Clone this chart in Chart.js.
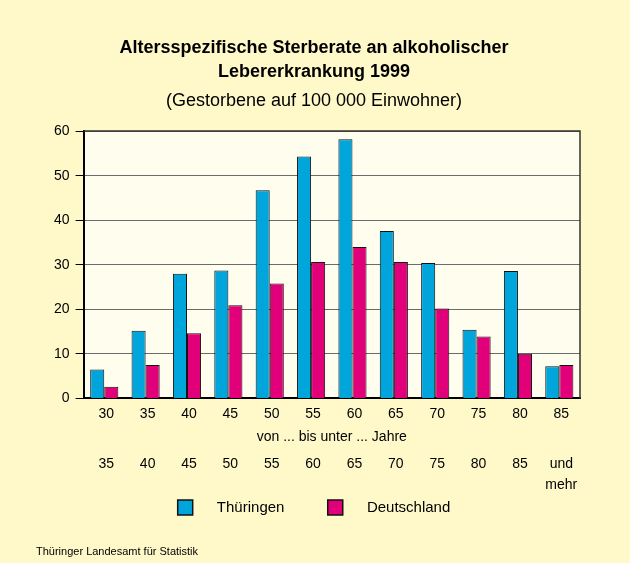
<!DOCTYPE html>
<html>
<head>
<meta charset="utf-8">
<style>
  html, body { margin: 0; padding: 0; background: #fff9ca; }
  #wrap { position: relative; width: 630px; height: 563px; }
  #source {
    position: absolute; left: 36px; top: 545px;
    font: 11px 'Liberation Sans', Arial, sans-serif; color: #000;
  }
</style>
</head>
<body>
<div id="wrap">
  <canvas id="sterbeChart"></canvas>
  <div id="source">Thüringer Landesamt für Statistik</div>
</div>

<script src="https://cdn.jsdelivr.net/npm/chart.js"></script>
<script>
  // age groups: "von ... bis unter ... Jahre"
  const lowerBounds = ["30", "35", "40", "45", "50", "55", "60", "65", "70", "75", "80", "85"];
  const upperBounds = ["35", "40", "45", "50", "55", "60", "65", "70", "75", "80", "85", ["und", "mehr"]];

  // Gestorbene auf 100 000 Einwohner
  const thueringen = [6.5, 15.2, 28.0, 28.7, 46.7, 54.3, 58.2, 37.6, 30.4, 15.4, 28.6, 7.2];
  const deutschland = [2.6, 7.5, 14.6, 20.9, 25.8, 30.6, 34.0, 30.6, 20.2, 13.9, 10.0, 7.5];

  const yTicks = [0, 10, 20, 30, 40, 50, 60];

  Chart.defaults.font.family = "'Liberation Sans', Arial, sans-serif";
  Chart.defaults.color = "#000";

  // plot background + frame
  const plotFrame = {
    id: "plotFrame",
    beforeDraw(chart) {
      const { ctx, chartArea: a } = chart;
      ctx.save();
      ctx.fillStyle = "#fffdee";
      ctx.fillRect(a.left, a.top, a.right - a.left, a.bottom - a.top);
      ctx.restore();
    },
    afterDraw(chart) {
      const { ctx, chartArea: a } = chart;
      ctx.save();
      ctx.strokeStyle = "#333";
      ctx.lineWidth = 1.5;
      ctx.beginPath();
      ctx.moveTo(a.left, a.top);
      ctx.lineTo(a.right, a.top);
      ctx.lineTo(a.right, a.bottom);
      ctx.stroke();
      ctx.restore();
    }
  };

  new Chart(document.getElementById("sterbeChart"), {
    type: "bar",
    data: {
      labels: lowerBounds,
      datasets: [
        {
          label: "Thüringen",
          data: thueringen,
          backgroundColor: "#00a6db",
          borderColor: "#111",
          borderWidth: 1
        },
        {
          label: "Deutschland",
          data: deutschland,
          backgroundColor: "#e2007a",
          borderColor: "#111",
          borderWidth: 1
        }
      ]
    },
    options: {
      responsive: true,
      maintainAspectRatio: false,
      animation: false,
      layout: { padding: { left: 48, right: 50, top: 0, bottom: 38 } },
      datasets: { bar: { categoryPercentage: 0.68, barPercentage: 1.0 } },
      plugins: {
        title: {
          display: true,
          text: ["Altersspezifische Sterberate an alkoholischer", "Lebererkrankung 1999"],
          font: { size: 18, weight: "bold", lineHeight: 1.28 },
          padding: { top: 37, bottom: 6 }
        },
        subtitle: {
          display: true,
          text: "(Gestorbene auf 100 000 Einwohner)",
          font: { size: 18, lineHeight: 1.28 },
          padding: { top: 0, bottom: 19 }
        },
        legend: {
          position: "bottom",
          labels: {
            boxWidth: 15,
            boxHeight: 15,
            padding: 10,
            font: { size: 15 },
            generateLabels(chart) {
              const items = Chart.defaults.plugins.legend.labels.generateLabels(chart);
              items.forEach((it, i) => {
                // wide gap after the box, and between the two entries
                it.text = "    " + it.text + (i === 0 ? "        " : "");
                it.lineWidth = 1.5;
                it.strokeStyle = "#111";
              });
              return items;
            }
          }
        },
        tooltip: { enabled: false }
      },
      scales: {
        x: {
          position: "bottom",
          weight: 0,
          grid: { display: false, drawTicks: false },
          border: { display: true, color: "#000", width: 2 },
          ticks: { font: { size: 14 }, padding: 7, labelOffset: 2, maxRotation: 0, autoSkip: false },
          title: {
            display: true,
            text: "von ... bis unter ... Jahre",
            font: { size: 14 },
            padding: { top: 0, bottom: 0 }
          }
        },
        x2: {
          type: "category",
          position: "bottom",
          weight: 1,
          labels: upperBounds,
          offset: true,
          grid: { display: false, drawTicks: false },
          border: { display: false },
          ticks: { font: { size: 14, lineHeight: 1.5 }, padding: 8, labelOffset: 2, maxRotation: 0, autoSkip: false },
          afterFit(scale) {
            scale.height -= 14;
          }
        },
        y: {
          min: 0,
          max: 60,
          afterBuildTicks(axis) {
            axis.ticks = yTicks.map((v) => ({ value: v }));
          },
          grid: { color: "#6b6b6b", lineWidth: 1, tickLength: 8, tickColor: "#000" },
          border: { display: true, color: "#000", width: 2 },
          ticks: { font: { size: 14 }, padding: 6 }
        }
      }
    },
    plugins: [plotFrame]
  });
</script>
</body>
</html>
